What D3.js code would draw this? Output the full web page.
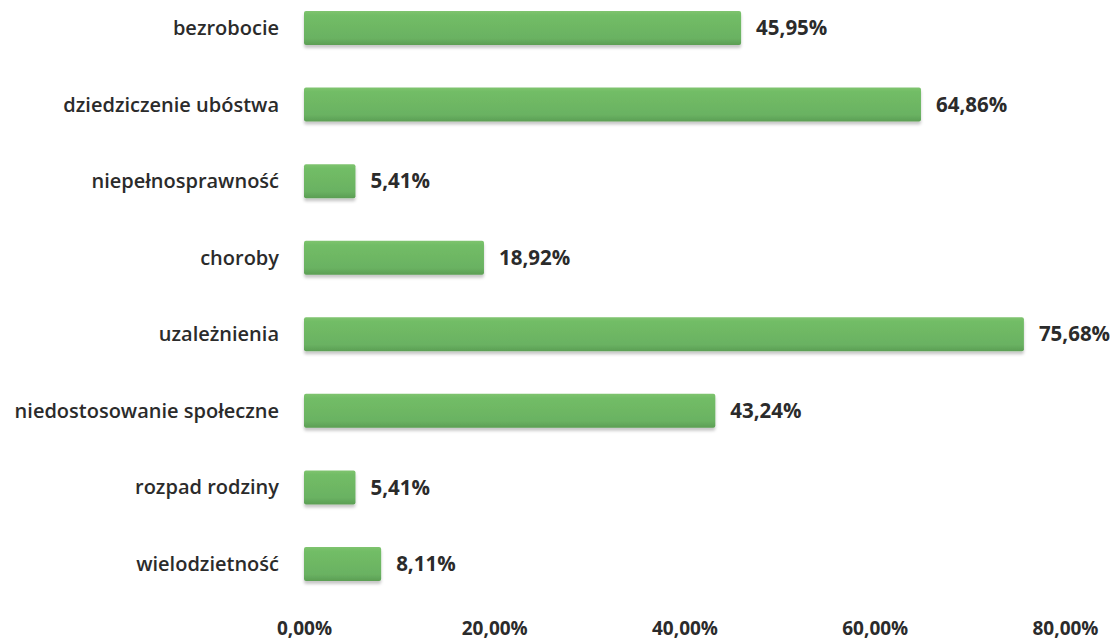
<!DOCTYPE html>
<html>
<head>
<meta charset="utf-8">
<script src="https://cdn.jsdelivr.net/npm/d3@7"></script>
<style>
  html, body { margin: 0; padding: 0; background: #fff; }
  svg { display: block; }
</style>
</head>
<body>
<svg id="chart" width="1114" height="640"></svg>
<script>
const categories = [
  "bezrobocie",
  "dziedziczenie ubóstwa",
  "niepełnosprawność",
  "choroby",
  "uzależnienia",
  "niedostosowanie społeczne",
  "rozpad rodziny",
  "wielodzietność"
];
const values = [45.95, 64.86, 5.41, 18.92, 75.68, 43.24, 5.41, 8.11];
const valueLabels = ["45,95%", "64,86%", "5,41%", "18,92%", "75,68%", "43,24%", "5,41%", "8,11%"];
const tickValues = [0, 20, 40, 60, 80];
const tickLabels = ["0,00%", "20,00%", "40,00%", "60,00%", "80,00%"];

const svg = d3.select("#chart");
const x = d3.scaleLinear().domain([0, 80]).range([304, 1065]);
const y = d3.scalePoint().domain(categories).range([28, 564]);
const barH = 34;

const defs = svg.append("defs");
const grad = defs.append("linearGradient").attr("id", "barGrad")
  .attr("x1", 0).attr("y1", 0).attr("x2", 0).attr("y2", 1);
grad.append("stop").attr("offset", "0%").attr("stop-color", "#7fc46f");
grad.append("stop").attr("offset", "12%").attr("stop-color", "#72bd66");
grad.append("stop").attr("offset", "80%").attr("stop-color", "#6ab262");
grad.append("stop").attr("offset", "100%").attr("stop-color", "#5b9e54");

const f = defs.append("filter").attr("id", "shadow")
  .attr("x", "-5%").attr("y", "-20%").attr("width", "110%").attr("height", "160%");
f.append("feDropShadow").attr("dx", 0).attr("dy", 3).attr("stdDeviation", 1.6)
  .attr("flood-color", "#000").attr("flood-opacity", 0.22);

const rows = svg.selectAll("g.row").data(categories).enter().append("g").attr("class", "row");

rows.append("rect")
  .attr("x", x(0))
  .attr("y", d => y(d) - barH / 2)
  .attr("width", (d, i) => x(values[i]) - x(0))
  .attr("height", barH)
  .attr("rx", 2)
  .attr("fill", "url(#barGrad)")
  .attr("filter", "url(#shadow)");

rows.append("text")
  .attr("x", x(0) - 25)
  .attr("y", d => y(d))
  .attr("dy", "0.35em")
  .attr("text-anchor", "end")
  .attr("font-family", "'Open Sans', sans-serif")
  .attr("font-weight", 600)
  .attr("font-size", 20)
  .attr("fill", "#2b2b2b")
  .text(d => d);

rows.append("text")
  .attr("x", (d, i) => x(values[i]) + 15)
  .attr("y", d => y(d))
  .attr("dy", "0.35em")
  .attr("font-family", "'Open Sans', sans-serif")
  .attr("font-weight", "bold")
  .attr("font-size", 20.5)
  .attr("fill", "#2b2b2b")
  .text((d, i) => valueLabels[i]);

const axis = d3.axisBottom(x).tickValues(tickValues)
  .tickFormat((d, i) => tickLabels[i]).tickSize(0).tickPadding(0);
const ax = svg.append("g").attr("transform", "translate(0,621)").call(axis);
ax.select(".domain").remove();
ax.selectAll("text")
  .attr("font-family", "'Open Sans', sans-serif")
  .attr("font-weight", "bold")
  .attr("font-size", 19)
  .attr("fill", "#2b2b2b")
  .attr("dy", "0.71em");
</script>
</body>
</html>
